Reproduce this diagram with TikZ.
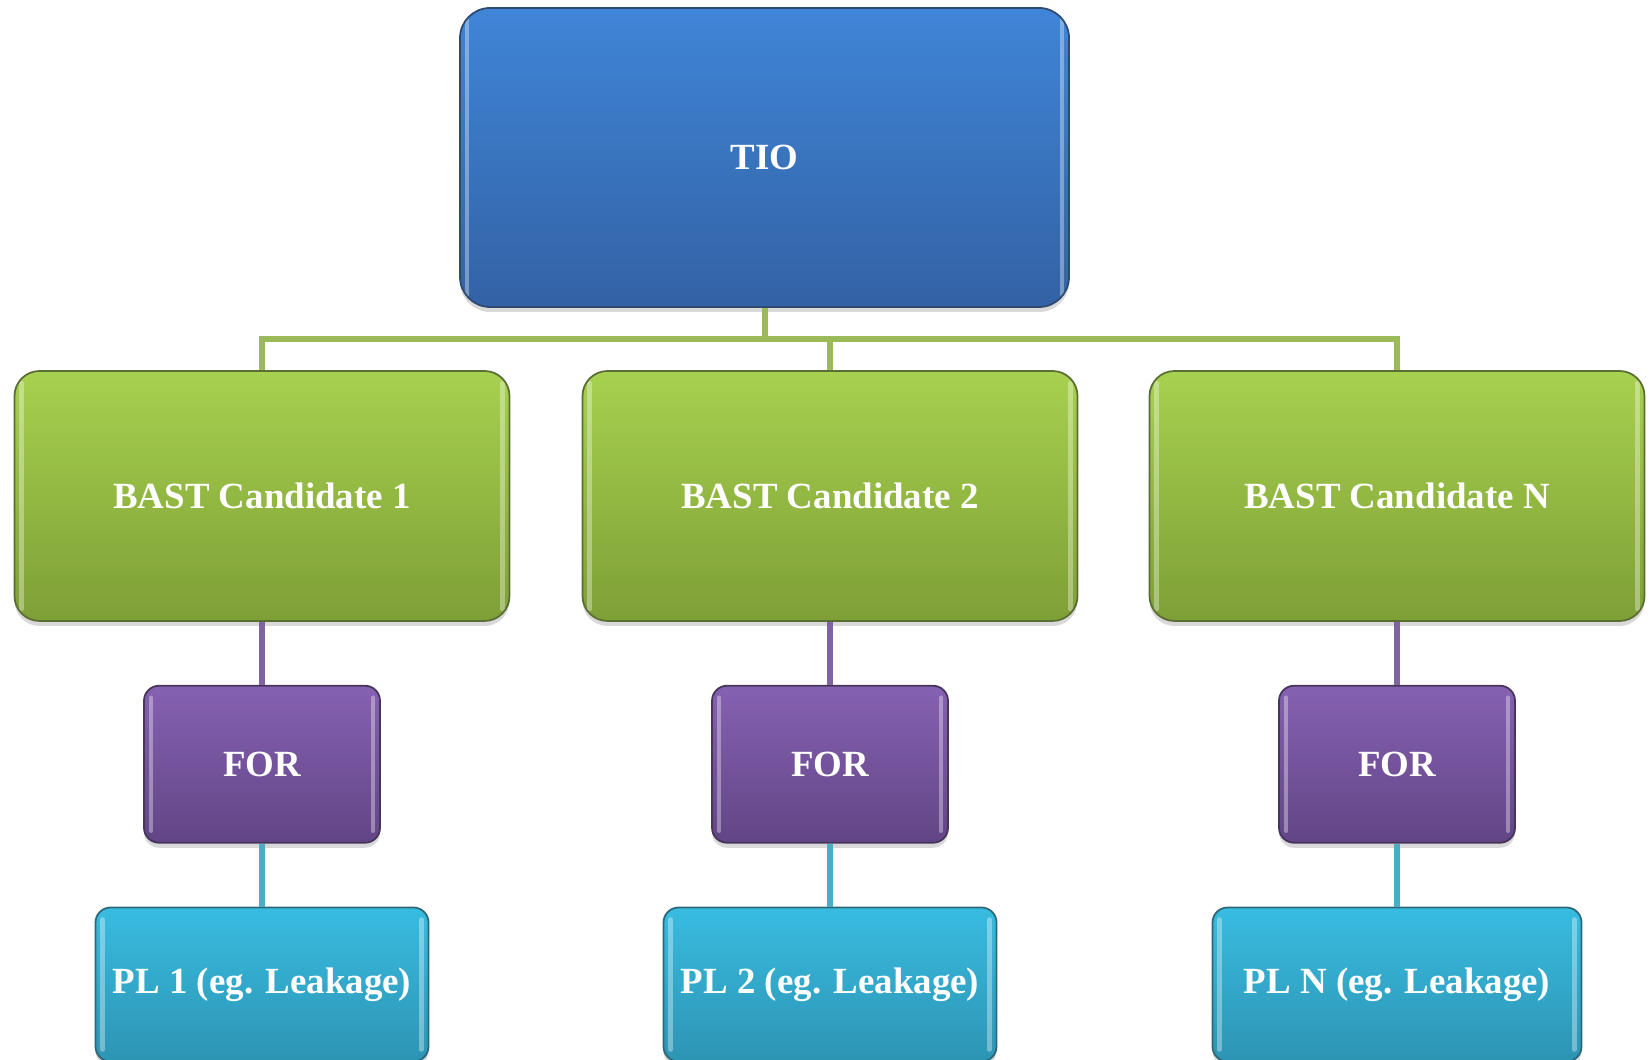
\documentclass[tikz,border=0pt]{standalone}
\usepackage{fontspec}
\setmainfont{Liberation Serif}
\usepackage{tikz}
\usetikzlibrary{positioning, shadows}
\definecolor{tiotop}{HTML}{3F85D7}
\definecolor{tiobot}{HTML}{3362A5}
\definecolor{tioedge}{HTML}{2F4A70}
\definecolor{basttop}{HTML}{A7D14F}
\definecolor{bastbot}{HTML}{7E9F36}
\definecolor{bastedge}{HTML}{5A6E34}
\definecolor{fortop}{HTML}{8661B2}
\definecolor{forbot}{HTML}{624586}
\definecolor{foredge}{HTML}{45365A}
\definecolor{pltop}{HTML}{38BCE1}
\definecolor{plbot}{HTML}{2D94B3}
\definecolor{pledge}{HTML}{2E6878}
\definecolor{linegreen}{HTML}{9BBB59}
\definecolor{linepurple}{HTML}{8064A2}
\definecolor{linecyan}{HTML}{4BACC6}

\tikzset{
    box/.style={draw, line width=0.5pt, inner sep=0pt, align=center, text=white,
        font=\fontsize{10.5}{12}\selectfont\bfseries,
        drop shadow={opacity=0.3, shadow xshift=0pt, shadow yshift=-0.05cm},
        path picture={
            \draw[white, opacity=0.35, line width=1.3pt, line cap=round]
                ([shift={(0.07,-0.12)}]path picture bounding box.north west) -- ([shift={(0.07,0.12)}]path picture bounding box.south west)
                ([shift={(-0.07,-0.12)}]path picture bounding box.north east) -- ([shift={(-0.07,0.12)}]path picture bounding box.south east);
        }},
    tiobox/.style={box, rounded corners=0.3cm, top color=tiotop, bottom color=tiobot, draw=tioedge,
        minimum width=6.09cm, minimum height=2.99cm},
    bastbox/.style={box, rounded corners=0.25cm, top color=basttop, bottom color=bastbot, draw=bastedge,
        minimum width=4.95cm, minimum height=2.5cm},
    forbox/.style={box, rounded corners=0.15cm, top color=fortop, bottom color=forbot, draw=foredge,
        minimum width=2.36cm, minimum height=1.57cm},
    plbox/.style={box, rounded corners=0.15cm, top color=pltop, bottom color=plbot, draw=pledge,
        minimum width=3.33cm, minimum height=1.54cm},
    link/.style={line width=1.7pt}
}

\begin{document}
\begin{tikzpicture}
                    \useasboundingbox (0,0) rectangle (16.52,10.60);
                    % top level
                    \node[tiobox] (tio) at (7.645,9.025) {TIO};
                    % candidates
                    \node[bastbox] (bast1) at (2.62,5.64) {BAST Candidate 1};
                    \node[bastbox] (bast2) at (8.30,5.64) {BAST Candidate 2};
                    \node[bastbox] (bastN) at (13.97,5.64) {BAST Candidate N};
                    % FOR level
                    \node[forbox, below=0.63cm of bast1] (for1) {FOR};
                    \node[forbox, below=0.63cm of bast2] (for2) {FOR};
                    \node[forbox, below=0.63cm of bastN] (forN) {FOR};
                    % PL level
                    \node[plbox, below=0.63cm of for1] (pl1) {PL 1 (eg. Leakage)};
                    \node[plbox, below=0.63cm of for2] (pl2) {PL 2 (eg. Leakage)};
                    \node[plbox, below=0.63cm of forN, minimum width=3.69cm] (plN) {PL N (eg. Leakage)};
                    % connectors
                    \draw[link, linegreen] (tio.south) -- ++(0,-0.31) -| (bast1.north);
                    \draw[link, linegreen] (tio.south) -- ++(0,-0.31) -| (bast2.north);
                    \draw[link, linegreen] (tio.south) -- ++(0,-0.31) -| (bastN.north);
                    \draw[link, linepurple] (bast1) -- (for1);
                    \draw[link, linepurple] (bast2) -- (for2);
                    \draw[link, linepurple] (bastN) -- (forN);
                    \draw[link, linecyan] (for1) -- (pl1);
                    \draw[link, linecyan] (for2) -- (pl2);
                    \draw[link, linecyan] (forN) -- (plN);
                \end{tikzpicture}
\end{document}
